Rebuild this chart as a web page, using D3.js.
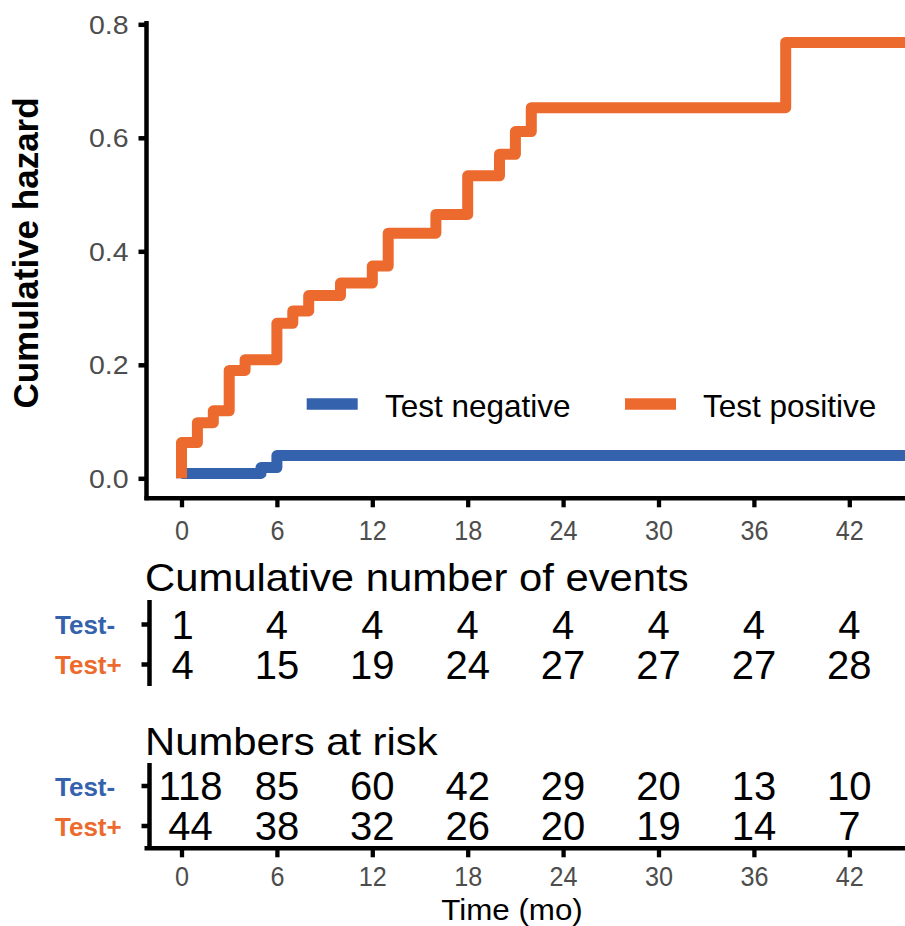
<!DOCTYPE html>
<html>
<head>
<meta charset="utf-8">
<script src="https://cdn.jsdelivr.net/npm/d3@7"></script>
<style>
  body { margin: 0; background: #fff; }
  text { font-family: "Liberation Sans", Arial, sans-serif; }
</style>
</head>
<body>
<div id="chart"></div>
<script>
// data
var TIME_TICKS = [0, 6, 12, 18, 24, 30, 36, 42];
var HAZ_TICKS = [0, 0.2, 0.4, 0.6, 0.8];
var GROUP_LABELS = ['Test-', 'Test+'];
var LEGEND_LABELS = ['Test negative', 'Test positive'];

var negTimes = [0, 0, 5, 6, 46];
var negHaz = [0, 0.0085, 0.019, 0.040, 0.040];
var posTimes = [0, 0, 1, 2, 3, 4, 6, 7, 8, 10, 12, 13, 16, 18, 20, 21, 22, 38, 46];
var posHaz = [0, 0.063, 0.098, 0.119, 0.190, 0.209, 0.273, 0.295, 0.322, 0.344, 0.374, 0.432, 0.465, 0.533, 0.571, 0.611, 0.653, 0.768, 0.768];

var eventsNeg = [1, 4, 4, 4, 4, 4, 4, 4];
var eventsPos = [4, 15, 19, 24, 27, 27, 27, 28];
var riskNeg = [118, 85, 60, 42, 29, 20, 13, 10];
var riskPos = [44, 38, 32, 26, 20, 19, 14, 7];

var WIDTH = 905, HEIGHT = 926;
var BLUE = '#3562ad', ORANGE = '#ec6a2d', GREY = '#4d4d4d';
var AXIS_X = 146.5;          // left edge of the panels
var PANEL_TOP = 21, PANEL_BOTTOM = 498.3;

var svg = d3.select('#chart').append('svg')
  .attr('width', WIDTH)
  .attr('height', HEIGHT);

svg.append('rect').attr('width', WIDTH).attr('height', HEIGHT).attr('fill', '#fff');

var x = d3.scaleLinear().domain([0, 42]).range([181.5, 181.5 + 42 * 15.9]);
var y = d3.scaleLinear().domain([0, 0.8]).range([478.3, 24.3]);

// squeeze / stretch a text horizontally around its anchor
function stretch(sel, sx) {
  sel.each(function () {
    var t = d3.select(this);
    var tx = +t.attr('x') || 0, ty = +t.attr('y') || 0;
    t.attr('x', 0).attr('y', 0)
      .attr('transform', 'translate(' + tx + ',' + ty + ') scale(' + sx + ',1)');
  });
}

// ---- main plot ----
var line = d3.line()
  .curve(d3.curveStepAfter)
  .x(function (d) { return x(d.t); })
  .y(function (d) { return y(d.h); });

function toPoints(times, haz) {
  return times.map(function (t, i) { return { t: t, h: haz[i] }; });
}

var series = [
  { pts: toPoints(negTimes, negHaz), color: BLUE },
  { pts: toPoints(posTimes, posHaz), color: ORANGE }
];

series.forEach(function (s) {
  svg.append('path')
    .datum(s.pts)
    .attr('fill', 'none')
    .attr('stroke', s.color)
    .attr('stroke-width', 11)
    .attr('stroke-linejoin', 'round')
    .attr('d', line);
});

// y axis
var yAxis = svg.append('g')
  .attr('transform', 'translate(' + AXIS_X + ',0)')
  .call(d3.axisLeft(y).tickValues(HAZ_TICKS).tickFormat(d3.format('.1f')).tickSize(8).tickSizeOuter(0));
yAxis.select('.domain').remove();
yAxis.selectAll('.tick line').attr('stroke', '#000').attr('stroke-width', 4.5);
yAxis.selectAll('.tick text')
  .attr('fill', GREY).attr('font-size', 25).attr('dy', '0.36em')
  .attr('x', -18);
stretch(yAxis.selectAll('.tick text'), 1.14);

svg.append('line')
  .attr('x1', AXIS_X).attr('x2', AXIS_X)
  .attr('y1', PANEL_TOP).attr('y2', PANEL_BOTTOM + 2)
  .attr('stroke', '#000').attr('stroke-width', 4.5);

// time axis (used under the plot and under the risk table)
function timeAxis(yPos, labelBaseline) {
  var g = svg.append('g')
    .attr('transform', 'translate(0,' + yPos + ')')
    .call(d3.axisBottom(x).tickValues(TIME_TICKS).tickSize(9).tickSizeOuter(0));
  g.select('.domain').remove();
  g.selectAll('.tick line').attr('stroke', '#000').attr('stroke-width', 4.3);
  g.selectAll('.tick text')
    .attr('fill', GREY).attr('font-size', 28).attr('dy', null)
    .attr('y', labelBaseline - yPos);
  stretch(g.selectAll('.tick text'), 0.9);
  svg.append('line')
    .attr('x1', AXIS_X - 2).attr('x2', WIDTH)
    .attr('y1', yPos).attr('y2', yPos)
    .attr('stroke', '#000').attr('stroke-width', 4.5);
}
timeAxis(PANEL_BOTTOM, 539.5);

// y title
svg.append('text')
  .attr('transform', 'translate(38,253) rotate(-90)')
  .attr('text-anchor', 'middle')
  .attr('font-size', 35)
  .attr('font-weight', 'bold')
  .text('Cumulative hazard');

// legend
var legendX = [{ key: 306.7, text: 385 }, { key: 625, text: 703 }];
LEGEND_LABELS.forEach(function (lab, i) {
  svg.append('line')
    .attr('x1', legendX[i].key).attr('x2', legendX[i].key + 51)
    .attr('y1', 404).attr('y2', 404)
    .attr('stroke', series[i].color).attr('stroke-width', 11.5);
  svg.append('text')
    .attr('x', legendX[i].text).attr('y', 416.5)
    .attr('font-size', 31.5)
    .text(lab);
});

// ---- tables ----
function drawTable(title, titleBaseline, rowCenters, rows, lineTop, lineBottom, firstNudge) {
  var t = svg.append('text')
    .attr('x', 145).attr('y', titleBaseline)
    .attr('font-size', 38)
    .text(title);
  stretch(t, 1.1);

  svg.append('line')
    .attr('x1', 149.5).attr('x2', 149.5)
    .attr('y1', lineTop).attr('y2', lineBottom)
    .attr('stroke', '#000').attr('stroke-width', 4.5);

  rows.forEach(function (vals, r) {
    var cy = rowCenters[r];
    svg.append('line')
      .attr('x1', 141.5).attr('x2', 149)
      .attr('y1', cy).attr('y2', cy)
      .attr('stroke', '#000').attr('stroke-width', 4.5);

    svg.append('text')
      .attr('x', 55).attr('y', cy + 9.6)
      .attr('font-size', 26)
      .attr('font-weight', 'bold')
      .attr('fill', series[r].color)
      .text(GROUP_LABELS[r]);

    svg.selectAll(null)
      .data(vals)
      .enter().append('text')
      .attr('x', function (d, i) { return x(TIME_TICKS[i]) + (i === 0 ? firstNudge : 0); })
      .attr('y', cy + 14.3)
      .attr('text-anchor', 'middle')
      .attr('font-size', 40)
      .text(function (d) { return d; });
  });
}

drawTable('Cumulative number of events', 591, [624.5, 664.5], [eventsNeg, eventsPos], 600, 686, 1);
drawTable('Numbers at risk', 755, [786, 826], [riskNeg, riskPos], 763, 848.3, 9);

timeAxis(848.3, 886);

var xTitle = svg.append('text')
  .attr('x', 512).attr('y', 919.5)
  .attr('text-anchor', 'middle')
  .attr('font-size', 29)
  .text('Time (mo)');
stretch(xTitle, 1.08);
</script>
</body>
</html>
